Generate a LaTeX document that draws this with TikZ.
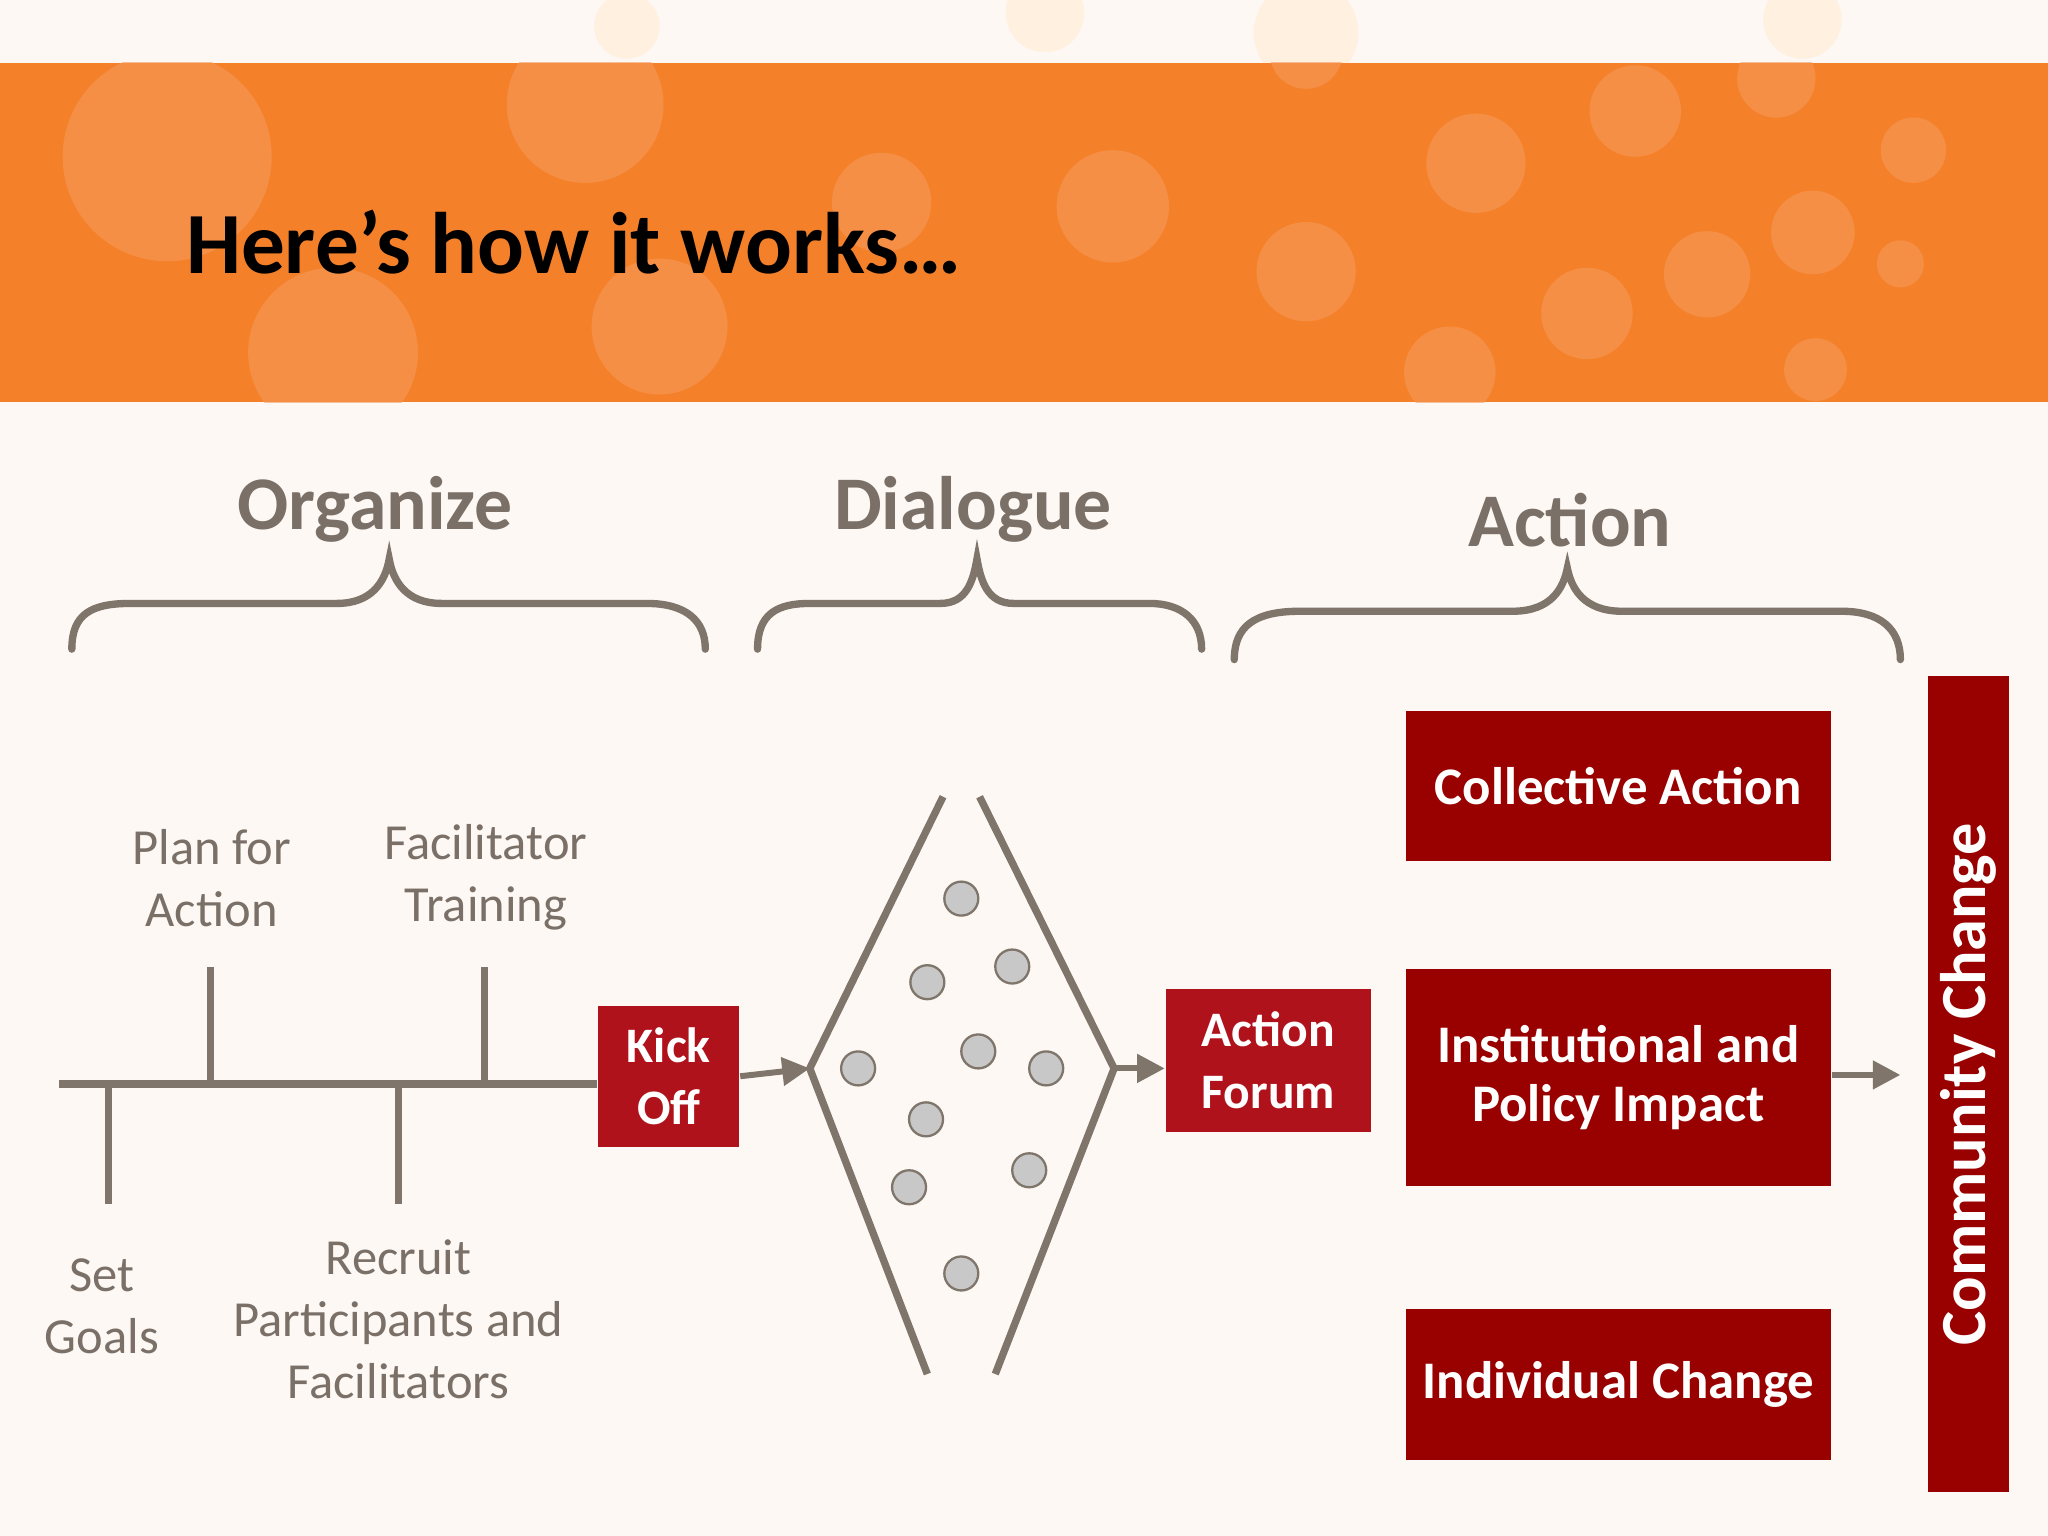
\documentclass[tikz,border=0pt]{standalone}
\usepackage{fontspec}
\setmainfont{Carlito}
\usetikzlibrary{arrows.meta}
\definecolor{org}{HTML}{F4812A}
\definecolor{orgl}{HTML}{F6995A}
\definecolor{gr}{HTML}{7F756A}
\definecolor{lab}{HTML}{7A7068}
\definecolor{red1}{HTML}{B0121C}
\definecolor{red2}{HTML}{990000}
\definecolor{bg}{HTML}{FDF8F4}
\definecolor{dot}{HTML}{C8C8C8}
\tikzset{
 brace/.style={gr,line width=1.6pt,line cap=round},
 head/.style={lab,font=\bfseries\fontsize{16.5}{19}\selectfont},
 lbl/.style={lab,align=center,font=\fontsize{11}{13.5}\selectfont},
 rbox/.style={fill=red2,text=white,font=\bfseries\fontsize{11}{13}\selectfont,align=center,inner sep=0pt},
 kbox/.style={fill=red1,text=white,font=\bfseries\fontsize{10.8}{13.5}\selectfont,align=center,inner sep=0pt},
 arr/.style={gr,line width=1.3pt,-{Triangle[length=6pt,width=6pt]}},
 ln/.style={gr,line width=1.6pt},
 dt/.style={circle,fill=dot,draw=gr,line width=0.5pt,minimum size=0.26cm,inner sep=0pt}
}
\begin{document}
\begin{tikzpicture}[x=0.01cm,y=-0.01cm]
\useasboundingbox (0,0) rectangle (1568,1176);
\fill[bg] (0,0) rectangle (1568,1176);
\foreach \x/\y/\r in {480/20/25,800/10/30,1000/25/40,1380/15/30}{\fill[orange!12] (\x,\y) circle (\r);}
\fill[org] (0,48) rectangle (1568,308);
\begin{scope}
\clip (0,48) rectangle (1568,308);
\foreach \x/\y/\r in {128/120/80,448/80/60,255/270/65,505/250/52,675/155/38,852/158/43,1000/208/38,1130/125/38,1252/85/35,1215/240/35,1307/210/33,1388/178/32,1465/115/25,1455/202/18,1390/283/24,1110/285/35,1360/60/30,1000/40/28}{\fill[orgl,opacity=0.6] (\x,\y) circle (\r);}
\end{scope}
\node[anchor=west,font=\bfseries\fontsize{19}{22}\selectfont] (title) at (130,185) {Here’s how it works…};
\node[head] (h1) at (287,390) {Organize};
\node[head] (h2) at (745,390) {Dialogue};
\node[head] (h3) at (1202,398) {Action};
% braces
\draw[brace] (55,497) .. controls (55,470) and (70,462) .. (100,462) -- (258,462) .. controls (285,462) and (295,445) .. (298,428) .. controls (301,445) and (311,462) .. (338,462) -- (495,462) .. controls (525,462) and (540,475) .. (540,497);
\draw[brace] (580,497) .. controls (580,470) and (595,462) .. (620,462) -- (720,462) .. controls (740,462) and (745,445) .. (748,428) .. controls (751,445) and (756,462) .. (776,462) -- (880,462) .. controls (905,462) and (920,475) .. (920,497);
\draw[brace] (945,505) .. controls (945,480) and (960,468) .. (995,468) -- (1158,468) .. controls (1188,468) and (1197,450) .. (1200,435) .. controls (1203,450) and (1212,468) .. (1242,468) -- (1410,468) .. controls (1440,468) and (1455,482) .. (1455,505);
% timeline
\node[kbox,minimum width=1.08cm,minimum height=1.08cm] (ko) at (512,824) {Kick\\Off};
\coordinate (t0) at (45,830);
\draw[ln] (t0) -- (ko.west |- t0);
\draw[ln] (161,830) -- (161,740);
\draw[ln] (371,830) -- (371,740);
\draw[ln] (83,830) -- (83,922);
\draw[ln] (305,830) -- (305,922);
\node[lbl] (l1) at (162,672) {Plan for\\Action};
\node[lbl] (l2) at (372,672) {Facilitator\\Training};
\node[lbl] (l3) at (78,1000) {Set\\Goals};
\node[lbl] (l4) at (305,1010) {Recruit\\Participants and\\Facilitators};
% diamond
\coordinate (dl) at (620,818);
\coordinate (dr) at (853,818);
\draw[ln,line join=miter] (722,610) -- (dl) -- (710,1052);
\draw[ln,line join=miter] (750,610) -- (dr) -- (762,1052);
\draw[arr] (ko.east) -- (dl);
\foreach \x/\y [count=\i] in {736/688,710/752,775/740,657/818,749/805,801/818,709/857,696/909,788/896,736/975}{\node[dt] (d\i) at (\x,\y) {};}
\node[kbox,minimum width=1.57cm,minimum height=1.09cm] (af) at (971,812) {Action\\Forum};
\draw[arr] (dr) -- (af.west |- dr);
\node[rbox,minimum width=3.25cm,minimum height=1.15cm] (ca) at (1239,602) {\fontsize{11.5}{13}\selectfont Collective Action};
\node[rbox,minimum width=3.25cm,minimum height=1.66cm] (ip) at (1239,825) {\fontsize{11.5}{15}\selectfont Institutional and\\\fontsize{11.5}{15}\selectfont Policy Impact};
\node[rbox,minimum width=3.25cm,minimum height=1.15cm] (ic) at (1239,1060) {\fontsize{11.5}{13}\selectfont Individual Change};
\node[rbox,minimum width=0.62cm,minimum height=6.25cm] (cc) at (1507,830) {};
\node[text=white,font=\bfseries\fontsize{14}{15}\selectfont,rotate=90] (cct) at (cc.center) {Community Change};
\coordinate (ae) at (1455,823);
\draw[arr] (ip.east |- ae) -- (ae);
\end{tikzpicture}
\end{document}
